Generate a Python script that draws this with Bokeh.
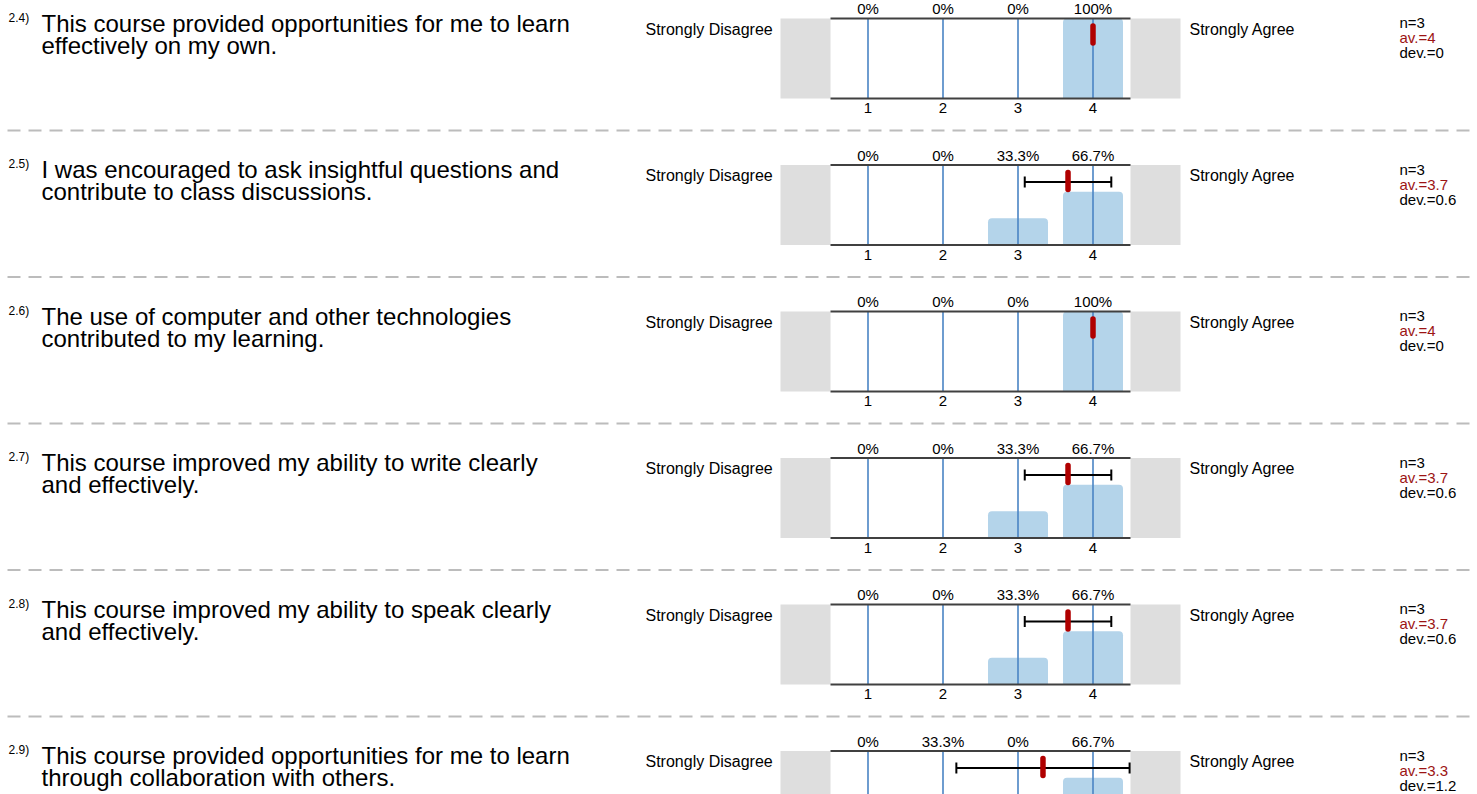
from bokeh.plotting import figure
from bokeh.models import Range1d
from bokeh.embed import file_html
from bokeh.resources import INLINE
from bokeh.core.properties import value

# ---------------- data ----------------
q_nums = ["2.4)", "2.5)", "2.6)", "2.7)", "2.8)", "2.9)"]
q_line1 = [
    "This course provided opportunities for me to learn",
    "I was encouraged to ask insightful questions and",
    "The use of computer and other technologies",
    "This course improved my ability to write clearly",
    "This course improved my ability to speak clearly",
    "This course provided opportunities for me to learn",
]
q_line2 = [
    "effectively on my own.",
    "contribute to class discussions.",
    "contributed to my learning.",
    "and effectively.",
    "and effectively.",
    "through collaboration with others.",
]
scale_values = [1, 2, 3, 4]
left_pole = "Strongly Disagree"
right_pole = "Strongly Agree"
pct_1 = [0, 0, 0, 100]
pct_2 = [0, 0, 33.3, 66.7]
pct_3 = [0, 0, 0, 100]
pct_4 = [0, 0, 33.3, 66.7]
pct_5 = [0, 0, 33.3, 66.7]
pct_6 = [0, 33.3, 0, 66.7]
pcts = [pct_1, pct_2, pct_3, pct_4, pct_5, pct_6]
n_resp = [3, 3, 3, 3, 3, 3]
means = [4, 3.667, 4, 3.667, 3.667, 3.333]
devs = [0, 0.577, 0, 0.577, 0.577, 1.155]

# ---------------- layout (pixels) ----------------
W, H = 1477, 794
ROW0 = 18.0        # y of first plot's top line
PITCH = 146.5      # row pitch
PH = 80.0          # plot height in px
X_HALF = 830.0     # px position of scale value 0.5
UNIT = 75.0        # px per scale unit
GREY = 50.0 / UNIT

FONT = value("Liberation Sans")
BLUE_BAR = "#b4d4ea"
BLUE_LINE = "#4a84c4"
RED = "#b00000"
DARKRED = "#9c1414"

p = figure(width=W, height=H, x_range=Range1d(0, W), y_range=Range1d(H, 0),
           output_backend="svg", toolbar_location=None, min_border=0,
           outline_line_color=None, background_fill_color="white",
           border_fill_color="white")
p.axis.visible = False
p.grid.visible = False
p.extra_x_ranges = {"sc": Range1d(0.5 - X_HALF / UNIT, 0.5 + (W - X_HALF) / UNIT)}


def label(x, y, txt, size, color="black", align="left", **kw):
    p.text(x=x, y=y, text=txt, text_font=FONT, text_font_size=size,
           text_align=align, text_baseline="middle", text_color=color, **kw)


for i in range(len(q_nums)):
    T = ROW0 + i * PITCH
    B = T + PH
    rn = f"r{i}"
    p.extra_y_ranges[rn] = Range1d((B - H) / PH * 100.0, B / PH * 100.0)

    # grey end boxes
    p.quad(left=[0.5 - GREY, 4.5], right=[0.5, 4.5 + GREY], bottom=[0, 0], top=[100, 100],
           fill_color="#dedede", line_color=None, x_range_name="sc", y_range_name=rn)
    # bars
    p.vbar(x=scale_values, top=pcts[i], bottom=0, width=0.8, fill_color=BLUE_BAR,
           line_color=None, border_radius=(4, 4, 0, 0), x_range_name="sc", y_range_name=rn)
    # vertical scale lines
    p.segment(x0=scale_values, x1=scale_values, y0=[0] * 4, y1=[100] * 4,
              line_color=BLUE_LINE, line_width=1.6, x_range_name="sc", y_range_name=rn)
    # top / bottom frame lines
    p.segment(x0=[0.5, 0.5], x1=[4.5, 4.5], y0=[0, 100], y1=[0, 100],
              line_color="#404040", line_width=2, x_range_name="sc", y_range_name=rn)
    # error bar
    m, d = means[i], devs[i]
    ey = T + 17
    if d > 0:
        p.segment(x0=[m - d], x1=[m + d], y0=[ey], y1=[ey], line_color="black",
                  line_width=2, x_range_name="sc")
        p.segment(x0=[m - d, m + d], x1=[m - d, m + d], y0=[ey - 5.5] * 2, y1=[ey + 5.5] * 2,
                  line_color="black", line_width=2, x_range_name="sc")
    # mean marker
    p.segment(x0=[m], x1=[m], y0=[T + 7.5], y1=[T + 24.5], line_color=RED,
              line_width=5.5, line_cap="round", x_range_name="sc")

    # percentage labels above
    label(scale_values, [T - 10] * 4, [f"{v:g}%" for v in pcts[i]], "15px",
          align="center", x_range_name="sc")
    # scale value labels below (only when inside the picture)
    if B + 16 < H:
        label(scale_values, [B + 9.7] * 4, [str(v) for v in scale_values], "15px",
              align="center", x_range_name="sc")

    # poles
    label([645], [T + 10.7], [left_pole], "16px")
    label([1189], [T + 10.7], [right_pole], "16px")

    # stats
    label([1399], [T + 4], [f"n={n_resp[i]}"], "15px")
    label([1399], [T + 19], [f"av.={round(m, 1):g}"], "15px", color=DARKRED)
    label([1399], [T + 34.3], [f"dev.={round(d, 1):g}"], "15px")

    # question number and text
    label([8], [T - 1], [q_nums[i]], "12px")
    label([41, 41], [T + 4.8, T + 26.8], [q_line1[i], q_line2[i]], "24px")

    # dashed separator
    p.segment(x0=[7], x1=[W], y0=[T + 112], y1=[T + 112], line_color="#bcbcbc",
              line_width=2, line_dash="13 8")

html = file_html(p, INLINE)
html = html.replace("</head>", "<style>html, body { margin: 0; padding: 0; }</style></head>", 1)
open("out.html", "w").write(html)
